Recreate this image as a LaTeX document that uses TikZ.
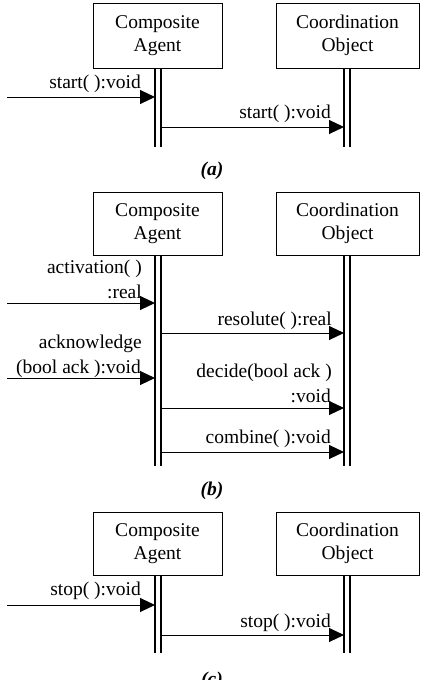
\documentclass[tikz,border=0pt]{standalone}
\usepackage{fontspec}
\setmainfont{Liberation Serif}
\usetikzlibrary{arrows.meta}
\newcommand{\dn}[1]{\raisebox{-3pt}{#1}}
\begin{document}
\begin{tikzpicture}[x=1pt,y=-1pt,
  obj/.style={draw,line width=1pt,minimum height=65pt,align=center,inner sep=0pt,
    font=\fontsize{19.5}{23}\selectfont},
  life/.style={double distance=4.6pt,line width=1.3pt},
  msg/.style={line width=1pt,-{Triangle[length=15pt,width=14pt]}},
  lbl/.style={inner sep=0pt,font=\fontsize{19.5}{23}\selectfont},
  figcap/.style={inner sep=0pt,font=\fontsize{19.5}{23}\selectfont\bfseries\itshape}]
\useasboundingbox[fill=white] (0,0) rectangle (422,680);
% ---------- (a)
\node[obj,minimum width=129pt] (A1) at (157.5,35.5) {\dn{Composite}\\\dn{Agent}};
\node[obj,minimum width=143pt] (B1) at (347.5,35.5) {\dn{Coordination}\\\dn{Object}};
\coordinate (A1e) at (158,147);
\coordinate (B1e) at (347,147);
\draw[life] (A1.south -| A1e) -- (A1e);
\draw[life] (B1.south -| B1e) -- (B1e);
\coordinate (A1l) at (155,0); \coordinate (A1r) at (161,0); \coordinate (B1l) at (344,0);
\coordinate (in1) at (7,97);
\draw[msg] (in1) -- (in1 -| A1l);
\draw[msg] (A1r |- 0,127) -- (B1l |- 0,127);
\node[lbl,anchor=base east] (ta1) at (141,88) {start( ):void};
\node[lbl,anchor=base east] (ta2) at (331,118) {start( ):void};
\node[figcap,anchor=base] (capa) at (212,175) {(a)};
% ---------- (b)
\node[obj,minimum width=129pt,minimum height=63pt] (A2) at (157.5,223.5) {\dn{Composite}\\\dn{Agent}};
\node[obj,minimum width=143pt,minimum height=63pt] (B2) at (347.5,223.5) {\dn{Coordination}\\\dn{Object}};
\coordinate (A2e) at (158,466);
\coordinate (B2e) at (347,466);
\draw[life] (A2.south -| A2e) -- (A2e);
\draw[life] (B2.south -| B2e) -- (B2e);
\coordinate (in2) at (7,303);
\coordinate (in3) at (7,378);
\draw[msg] (in2) -- (in2 -| A1l);
\draw[msg] (A1r |- 0,333) -- (B1l |- 0,333);
\draw[msg] (in3) -- (in3 -| A1l);
\draw[msg] (A1r |- 0,408) -- (B1l |- 0,408);
\draw[msg] (A1r |- 0,452) -- (B1l |- 0,452);
\node[lbl,anchor=base east] (tb1) at (142,273) {activation( )};
\node[lbl,anchor=base east] (tb2) at (142,298) {:real};
\node[lbl,anchor=base east] (tb3) at (332,325) {resolute( ):real};
\node[lbl,anchor=base east] (tb4) at (142,348) {acknowledge};
\node[lbl,anchor=base east] (tb5) at (141,373) {(bool ack ):void};
\node[lbl,anchor=base east] (tb6) at (332,377) {decide(bool ack )};
\node[lbl,anchor=base east] (tb7) at (331,402) {:void};
\node[lbl,anchor=base east] (tb8) at (331,443) {combine( ):void};
\node[figcap,anchor=base] (capb) at (212,495) {(b)};
% ---------- (c)
\node[obj,minimum width=129pt,minimum height=63pt] (A3) at (157.5,543.5) {\dn{Composite}\\\dn{Agent}};
\node[obj,minimum width=143pt,minimum height=63pt] (B3) at (347.5,543.5) {\dn{Coordination}\\\dn{Object}};
\coordinate (A3e) at (158,653);
\coordinate (B3e) at (347,653);
\draw[life] (A3.south -| A3e) -- (A3e);
\draw[life] (B3.south -| B3e) -- (B3e);
\coordinate (in4) at (7,605);
\draw[msg] (in4) -- (in4 -| A1l);
\draw[msg] (A1r |- 0,635) -- (B1l |- 0,635);
\node[lbl,anchor=base east] (tc1) at (141,595) {stop( ):void};
\node[lbl,anchor=base east] (tc2) at (331,627) {stop( ):void};
\node[figcap,anchor=base] (capc) at (212,685) {(c)};
\end{tikzpicture}
\end{document}
